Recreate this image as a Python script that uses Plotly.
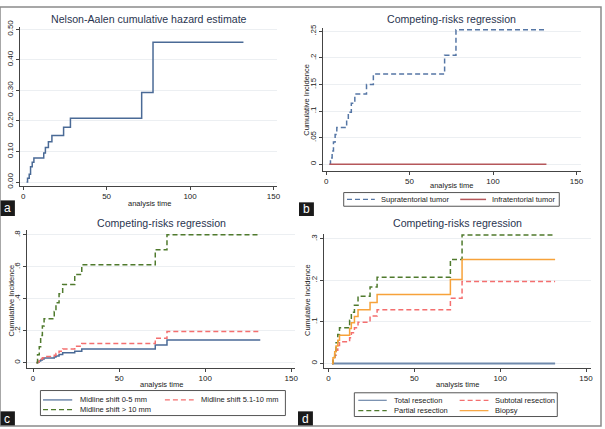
import plotly.graph_objects as go

W, H = 605, 429

# ---------------- data ----------------
times = [2, 2.6, 3.6, 4.4, 5.4, 6.4, 12.3, 13.3, 15.1, 17.2, 24.2, 28.3, 71.0, 77.8, 132]

# panel a: Nelson-Aalen cumulative hazard
na_hazard = [0.000, 0.013, 0.026, 0.050, 0.065, 0.079, 0.095, 0.113, 0.132, 0.152, 0.179, 0.209, 0.293, 0.457, 0.457]

# panel b: tumour location
b_names = ["Supratentorial tumor", "Infratentorial tumor"]
b_supra = [0.000, 0.012, 0.025, 0.042, 0.056, 0.069, 0.083, 0.098, 0.115, 0.132, 0.150, 0.170, 0.205, 0.253, 0.253]
b_infra = [0.0] * 15

# panel c: midline shift
c_names = ["Midline shift 0-5 mm", "Midline shift 5.1-10 mm", "Midline shift > 10 mm"]
c_ms0 = [0.000, 0.005, 0.011, 0.018, 0.024, 0.030, 0.036, 0.043, 0.052, 0.063, 0.072, 0.087, 0.112, 0.143, 0.143]
c_ms5 = [0.000, 0.007, 0.014, 0.024, 0.032, 0.040, 0.048, 0.058, 0.072, 0.087, 0.104, 0.120, 0.153, 0.195, 0.195]
c_ms10 = [0.000, 0.050, 0.100, 0.170, 0.230, 0.275, 0.320, 0.375, 0.432, 0.490, 0.552, 0.613, 0.706, 0.800, 0.800]

# panel d: extent of resection
d_names = ["Total resection", "Subtotal resection", "Partial resection", "Biopsy"]
d_total = [0.0] * 15
d_subtotal = [0.000, 0.010, 0.020, 0.032, 0.043, 0.0525, 0.062, 0.074, 0.086, 0.0995, 0.114, 0.129, 0.157, 0.197, 0.197]
d_partial = [0.000, 0.015, 0.030, 0.050, 0.070, 0.086, 0.104, 0.123, 0.140, 0.162, 0.184, 0.2076, 0.250, 0.309, 0.309]
d_biopsy = [0.000, 0.014, 0.028, 0.042, 0.056, 0.068, 0.084, 0.098, 0.113, 0.129, 0.147, 0.166, 0.202, 0.250, 0.250]

x_ticks = [0, 50, 100, 150]
a_yticks = [0, 0.1, 0.2, 0.3, 0.4, 0.5]
a_ylabels = ["0.00", "0.10", "0.20", "0.30", "0.40", "0.50"]
b_yticks = [0, 0.05, 0.1, 0.15, 0.2, 0.25]
b_ylabels = ["0", ".05", ".1", ".15", ".2", ".25"]
c_yticks = [0, 0.2, 0.4, 0.6, 0.8]
c_ylabels = ["0", ".2", ".4", ".6", ".8"]
d_yticks = [0, 0.1, 0.2, 0.3]
d_ylabels = ["0", ".1", ".2", ".3"]

titles = ["Nelson-Aalen cumulative hazard estimate", "Competing-risks regression",
          "Competing-risks regression", "Competing-risks regression"]
xtitle = "analysis time"
ytitle = "Cumulative Incidence"
panel_letters = ["a", "b", "c", "d"]

# ---------------- styles ----------------
FONT = "Liberation Sans, Arial, sans-serif"
DASH = "5px,3px"
BLUE = "#4a6a96"
BLUE_D = "#5576a5"
MAROON = "#b5575a"
PINK = "#f46f6f"
GREEN = "#4f7a2d"
ORANGE = "#f7a23a"
GREY_BLUE = "#6f89ab"
AX = "#444444"
GRID = "#eceff2"
TITLE_C = "#2a3550"


def px(x):
    return x / W


def py(y):
    return 1 - y / H


fig = go.Figure()


def step(x, y, axis, color, dash="solid", width=1.5, name=None):
    fig.add_trace(go.Scatter(
        x=x, y=y, mode="lines", line=dict(color=color, width=width, dash=dash, shape="hv"),
        xaxis="x" + axis, yaxis="y" + axis, showlegend=False, name=name, hoverinfo="skip"))


step(times, na_hazard, "", BLUE)
step(times, b_supra, "2", BLUE_D, DASH, name=b_names[0])
step(times, b_infra, "2", MAROON, name=b_names[1])
step(times, c_ms0, "3", BLUE, name=c_names[0])
step(times, c_ms5, "3", PINK, DASH, name=c_names[1])
step(times, c_ms10, "3", GREEN, DASH, name=c_names[2])
step(times, d_total, "4", GREY_BLUE, width=2.2, name=d_names[0])
step(times, d_subtotal, "4", PINK, DASH, name=d_names[1])
step(times, d_partial, "4", GREEN, DASH, name=d_names[2])
step(times, d_biopsy, "4", ORANGE, name=d_names[3])

# panel geometry (pixels): left, right, top, bottom of axis lines; axis ranges
panels = [
    dict(l=20, r=279, t=20, b=183, xr=[-2.0, 152.2], yr=[-0.0118, 0.5086], yt=a_yticks, yl=a_ylabels),
    dict(l=325, r=585, t=22, b=167.7, xr=[-1.96, 152.8], yr=[-0.0123, 0.2555], yt=b_yticks, yl=b_ylabels),
    dict(l=27.3, r=297, t=228, b=369.3, xr=[-3.46, 152.2], yr=[-0.0305, 0.832], yt=c_yticks, yl=c_ylabels),
    dict(l=326, r=595, t=232, b=369.3, xr=[-2.72, 152.95], yr=[-0.0101, 0.3125], yt=d_yticks, yl=d_ylabels),
]

layout = dict(
    width=W, height=H, margin=dict(l=0, r=0, t=0, b=0),
    paper_bgcolor="white", plot_bgcolor="white",
    font=dict(family=FONT, size=8, color="#222222"),
    showlegend=False,
)
for i, p in enumerate(panels):
    sfx = "" if i == 0 else str(i + 1)
    layout["xaxis" + sfx] = dict(
        domain=[px(p["l"]), px(p["r"])], range=p["xr"], anchor="y" + sfx,
        tickvals=x_ticks, ticks="outside", ticklen=3, tickcolor=AX, tickwidth=1,
        showline=True, linecolor=AX, linewidth=1, showgrid=False, zeroline=False,
        tickfont=dict(size=8, color="#222222"), fixedrange=True)
    layout["yaxis" + sfx] = dict(
        domain=[py(p["b"]), py(p["t"])], range=p["yr"], anchor="x" + sfx,
        tickvals=p["yt"], ticktext=p["yl"], tickangle=-90, ticks="outside", ticklen=3,
        tickcolor=AX, tickwidth=1, showline=True, linecolor=AX, linewidth=1,
        showgrid=True, gridcolor=GRID, gridwidth=1, zeroline=False,
        tickfont=dict(size=8, color="#222222"), fixedrange=True)
fig.update_layout(**layout)

ann = []
shapes = []

# panel titles
for (cx, cy), t in zip([(150, 12), (455, 12), (163, 221.5), (460.5, 221)], titles):
    ann.append(dict(x=px(cx), y=py(cy), xref="paper", yref="paper", text=t, showarrow=False,
                    xanchor="center", yanchor="middle", font=dict(size=10.6, color=TITLE_C)))

# x axis titles
for cx, cy in [(150, 201), (455, 182.3), (163, 386.7), (461, 386.7)]:
    ann.append(dict(x=px(cx), y=py(cy), xref="paper", yref="paper", text=xtitle, showarrow=False,
                    xanchor="center", yanchor="middle", font=dict(size=7.5, color="#222222")))

# y axis titles
for cx, cy in [(308.5, 94.5), (11.5, 300), (309, 300)]:
    ann.append(dict(x=px(cx), y=py(cy), xref="paper", yref="paper", text=ytitle, showarrow=False,
                    textangle=-90, xanchor="center", yanchor="middle", font=dict(size=7.5, color="#222222")))


def legend_box(x0, x1, y0, y1, items):
    shapes.append(dict(type="rect", xref="paper", yref="paper", x0=px(x0), x1=px(x1), y0=py(y1), y1=py(y0),
                       line=dict(color="#555555", width=1), fillcolor="white", layer="above"))
    for (sx0, sx1, sy, tx, label, color, dash, w) in items:
        shapes.append(dict(type="line", xref="paper", yref="paper", x0=px(sx0), x1=px(sx1), y0=py(sy), y1=py(sy),
                           line=dict(color=color, width=w, dash=dash), layer="above"))
        ann.append(dict(x=px(tx), y=py(sy), xref="paper", yref="paper", text=label, showarrow=False,
                        xanchor="left", yanchor="middle", font=dict(size=7.5, color="#222222")))


legend_box(346, 563, 190, 204, [
    (349.3, 377.3, 197, 381.7, b_names[0], BLUE_D, DASH, 1.2),
    (463.3, 489.3, 197, 493.3, b_names[1], MAROON, "solid", 1.5),
])
legend_box(40.7, 287.3, 392.7, 418.3, [
    (43.3, 72.7, 402.3, 78.3, c_names[0], BLUE, "solid", 1.2),
    (166, 195, 402.3, 200, c_names[1], PINK, DASH, 1.2),
    (43.3, 72.7, 412.3, 78.3, c_names[2], GREEN, DASH, 1.2),
])
legend_box(356.7, 561, 395, 419.3, [
    (360.7, 389.3, 402.7, 395, d_names[0], GREY_BLUE, "solid", 1.2),
    (462.7, 491.7, 402.7, 496.7, d_names[1], PINK, DASH, 1.2),
    (360.7, 389.3, 413.3, 395, d_names[2], GREEN, DASH, 1.2),
    (462.7, 491.7, 413.3, 496.7, d_names[3], ORANGE, "solid", 1.2),
])

# panel letter tags
for (x0, y0, x1, y1), letter in zip([(0, 198, 15, 214), (301, 200, 316, 214),
                                      (0, 414, 15, 429), (300, 414, 315, 429)], panel_letters):
    shapes.append(dict(type="rect", xref="paper", yref="paper", x0=px(x0), x1=px(x1), y0=py(y1), y1=py(y0),
                       line=dict(width=0), fillcolor="#1a1a1a", layer="above"))
    ann.append(dict(x=px((x0 + x1) / 2), y=py((y0 + y1) / 2), xref="paper", yref="paper", text=letter,
                    showarrow=False, xanchor="center", yanchor="middle", borderpad=0,
                    font=dict(size=12, color="white")))

# outer frame
shapes.append(dict(type="rect", xref="paper", yref="paper", x0=0, x1=1, y0=0, y1=1,
                   line=dict(color="#8a8a8a", width=1.5), layer="above"))

fig.update_layout(annotations=ann, shapes=shapes)
fig.write_html("out.html", config={"displayModeBar": False},
               post_script="document.body.style.margin='0';document.body.style.overflow='hidden';")
